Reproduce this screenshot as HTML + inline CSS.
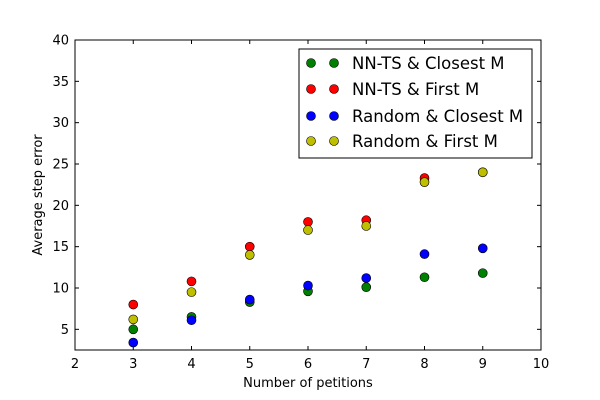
<!DOCTYPE html>
<html><head><meta charset="utf-8"><style>body{margin:0;background:#fff}svg{display:block}</style></head>
<body>
<svg id="chart" width="600" height="400" viewBox="0 0 600 400" xmlns="http://www.w3.org/2000/svg" font-family="'DejaVu Sans','Liberation Sans',sans-serif">
<rect width="600" height="400" fill="#fff"/>
<g id="grid"></g>
<g id="marks"></g>
<rect x="75" y="40" width="466" height="310" fill="none" stroke="#000" stroke-width="1"/>
<text x="308" y="387" font-size="13" text-anchor="middle">Number of petitions</text>
<text transform="translate(42,195) rotate(-90)" font-size="13" text-anchor="middle">Average step error</text>
<g id="legend">
<rect x="299" y="49" width="233" height="109" fill="#fff" stroke="#000" stroke-width="1"/>
</g>
</svg>
<script>
const xTicks = [2,3,4,5,6,7,8,9,10];
const yTicks = [5,10,15,20,25,30,35,40];
const categories = [3,4,5,6,7,8,9];
const seriesNames = ["NN-TS & Closest M","NN-TS & First M","Random & Closest M","Random & First M"];
const seriesColors = ["#008000","#ff0000","#0000ff","#bfbf00"];
const nnClosest = [5.0,6.5,8.3,9.6,10.1,11.3,11.8];
const nnFirst = [8.0,10.8,15.0,18.0,18.2,23.3,24.0];
const randClosest = [3.4,6.1,8.6,10.3,11.2,14.1,14.8];
const randFirst = [6.2,9.5,14.0,17.0,17.5,22.8,24.0];
const series = [nnClosest, nnFirst, randClosest, randFirst];
const slugs = ["nn-ts-closest","nn-ts-first","random-closest","random-first"];

const NS="http://www.w3.org/2000/svg";
const L=75,R=541,T=40,B=350,xmin=2,xmax=10,ymin=2.5,ymax=40;
const sx=v=>L+(v-xmin)/(xmax-xmin)*(R-L);
const sy=v=>B-(v-ymin)/(ymax-ymin)*(B-T);
function mk(tag,attrs,parent){const e=document.createElementNS(NS,tag);for(const k in attrs)e.setAttribute(k,attrs[k]);parent.appendChild(e);return e;}
const grid=document.getElementById('grid');
xTicks.forEach(t=>{
  const x=sx(t);
  let a=mk('line',{x1:x,x2:x,y1:B,y2:B-4,stroke:'#000'},grid);
  
  
  let b=mk('line',{x1:x,x2:x,y1:T,y2:T+4,stroke:'#000'},grid);
  
  
  let tx=mk('text',{x:x,y:B+18,'font-size':13,'text-anchor':'middle'},grid);
  tx.textContent=t;
  
  
});
yTicks.forEach(t=>{
  const y=sy(t);
  let a=mk('line',{x1:L,x2:L+4,y1:y,y2:y,stroke:'#000'},grid);
  
  
  let b=mk('line',{x1:R,x2:R-4,y1:y,y2:y,stroke:'#000'},grid);
  
  
  let tx=mk('text',{x:L-6,y:y+4.5,'font-size':13,'text-anchor':'end'},grid);
  tx.textContent=t;
  
  
});
const marks=document.getElementById('marks');
series.forEach((vals,si)=>{
  vals.forEach((v,i)=>{
    const c=mk('circle',{cx:sx(categories[i]),cy:sy(v),r:4.5,fill:seriesColors[si],stroke:'#000','stroke-width':0.6},marks);
    
    
  });
});
const lg=document.getElementById('legend');
const ly=[63,89,116,141];
seriesNames.forEach((n,i)=>{
  [311,334].forEach(x=>{
    const c=mk('circle',{cx:x,cy:ly[i],r:4.5,fill:seriesColors[i],stroke:'#000','stroke-width':0.6},lg);
    
    
  });
  const t=mk('text',{x:352,y:ly[i]+6,'font-size':16.5},lg);
  t.textContent=n;
  
  
});
</script>
</body></html>
